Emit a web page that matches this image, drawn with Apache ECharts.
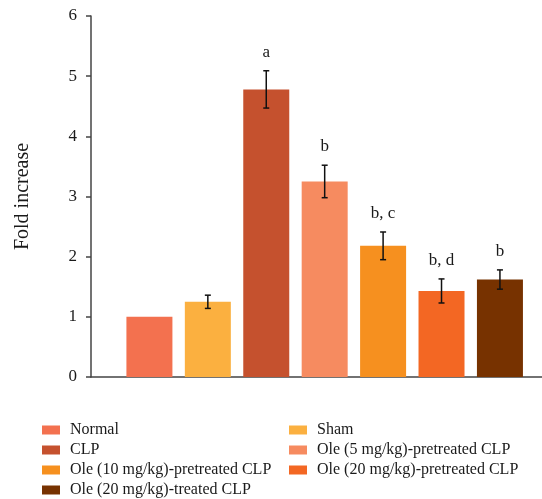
<!DOCTYPE html>
<html>
<head>
<meta charset="utf-8">
<script src="https://cdn.jsdelivr.net/npm/echarts@6/dist/echarts.min.js"></script>
<style>
  html, body { margin: 0; padding: 0; background: #fff; }
  #chart { width: 542px; height: 499px; }
</style>
</head>
<body>
<div id="chart"></div>
<script>
// groups, mean fold increase, SEM and significance letters
const groups = ["Normal", "Sham", "CLP", "Ole (5 mg/kg)-pretreated CLP", "Ole (10 mg/kg)-pretreated CLP", "Ole (20 mg/kg)-pretreated CLP", "Ole (20 mg/kg)-treated CLP"];
const values = [1.0, 1.25, 4.78, 3.25, 2.18, 1.43, 1.62];
const errors = [0, 0.11, 0.31, 0.27, 0.23, 0.2, 0.16];
const letters = ["", "", "a", "b", "b, c", "b, d", "b"];
const colors = ["#F3714F", "#FBB040", "#C5512E", "#F68B60", "#F6901F", "#F36723", "#773200"];
const yTicks = [0, 1, 2, 3, 4, 5, 6];

const font = "Liberation Serif";
const chart = echarts.init(document.getElementById("chart"));

const barSeries = groups.map((g, i) => ({
  name: g,
  type: "bar",
  barWidth: 46,
  barGap: "-100%",
  itemStyle: { color: colors[i] },
  data: [[i + 1, values[i]]],
  z: 2
}));

const errSeries = {
  type: "custom",
  z: 5,
  data: values.map((v, i) => [i + 1, v, errors[i]]),
  renderItem: function (params, api) {
    const x = api.value(0), v = api.value(1), e = api.value(2);
    const lab = letters[params.dataIndex];
    const top = api.coord([x, v + e]);
    const bot = api.coord([x, v - e]);
    const children = [];
    if (e > 0) {
      const st = { stroke: "#111", lineWidth: 1.5 };
      children.push({ type: "line", shape: { x1: top[0], y1: top[1], x2: bot[0], y2: bot[1] }, style: st });
      children.push({ type: "line", shape: { x1: top[0] - 3, y1: top[1], x2: top[0] + 3, y2: top[1] }, style: st });
      children.push({ type: "line", shape: { x1: bot[0] - 3, y1: bot[1], x2: bot[0] + 3, y2: bot[1] }, style: st });
    }
    if (lab) {
      children.push({
        type: "text",
        style: { x: top[0], y: top[1] - 10, text: lab, align: "center", verticalAlign: "bottom",
          font: "17px '" + font + "'", fill: "#1a1a1a" }
      });
    }
    return { type: "group", children: children };
  }
};

const legendText = { fontFamily: font, fontSize: 16, color: "#1a1a1a", lineHeight: 16, padding: [0, 0, 0, 5] };

chart.setOption({
  animation: false,
  grid: { left: 91, right: 0, top: 16, bottom: 122, containLabel: false },
  legend: [
    {
      data: [groups[0], groups[2], groups[4], groups[6]],
      orient: "vertical", left: 42, top: 422, padding: 0,
      icon: "rect", itemWidth: 18, itemHeight: 9, itemGap: 4,
      textStyle: legendText
    },
    {
      data: [groups[1], groups[3], groups[5]],
      orient: "vertical", left: 289, top: 422, padding: 0,
      icon: "rect", itemWidth: 18, itemHeight: 9, itemGap: 4,
      textStyle: legendText
    }
  ],
  xAxis: {
    type: "value", min: 0, max: 7.72,
    axisLine: { show: true, lineStyle: { color: "#444", width: 1.5 } },
    axisTick: { show: false }, axisLabel: { show: false }, splitLine: { show: false }
  },
  yAxis: {
    type: "value", min: yTicks[0], max: yTicks[yTicks.length - 1], interval: 1,
    name: "Fold increase", nameLocation: "middle", nameGap: 58,
    nameTextStyle: { fontFamily: font, fontSize: 20, color: "#1a1a1a" },
    axisLine: { show: true, lineStyle: { color: "#444", width: 1.5 } },
    axisTick: { show: true, inside: false, length: 5, lineStyle: { color: "#444", width: 1.5 } },
    axisLabel: { fontFamily: font, fontSize: 17, color: "#1a1a1a", margin: 14 },
    splitLine: { show: false }
  },
  series: barSeries.concat([errSeries])
});
</script>
</body>
</html>
